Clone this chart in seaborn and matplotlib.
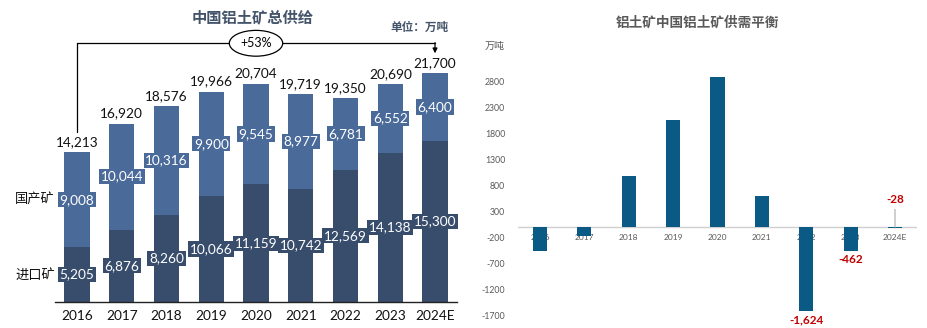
import matplotlib
matplotlib.use("Agg")
import matplotlib.pyplot as plt
import seaborn as sns
import numpy as np
import pandas as pd

years = ['2016', '2017', '2018', '2019', '2020', '2021', '2022', '2023', '2024E']
imports = [5205, 6876, 8260, 10066, 11159, 10742, 12569, 14138, 15300]
domestic = [9008, 10044, 10316, 9900, 9545, 8977, 6781, 6552, 6400]
balance = [-460, -180, 975, 2050, 2880, 590, -1624, -462, -28]
balance_labels = {6: '-1,624', 7: '-462', 8: '-28'}
right_ticks = [-1700, -1200, -700, -200, 300, 800, 1300, 1800, 2300, 2800]

sns.set_theme(style="white")
plt.rcParams['font.family'] = ['Lato', 'Noto Sans CJK SC', 'DejaVu Sans']
CJK = ['Noto Sans CJK SC', 'DejaVu Sans']

C_TOP = '#4A6A9A'
C_BOT = '#384C6C'
C_RIGHT = '#0B5A85'
C_RED = '#C00000'
C_GRAY = '#595959'

W, H = 928, 328
fig = plt.figure(figsize=(W / 100, H / 100), dpi=100)

def px_axes(x0, x1, ytop, ybot):
    return fig.add_axes([x0 / W, 1 - ybot / H, (x1 - x0) / W, (ybot - ytop) / H])

totals = [a + b for a, b in zip(imports, domestic)]
df = pd.DataFrame({'year': years, 'imports': imports, 'domestic': domestic, 'total': totals})

# ---------------- Left chart ----------------
axl = px_axes(54.6, 457.4, 28, 302)
sns.barplot(data=df, x='year', y='total', color=C_TOP, saturation=1, width=0.56, ax=axl,
            linewidth=0, edgecolor='none')
sns.barplot(data=df, x='year', y='imports', color=C_BOT, saturation=1, width=0.56, ax=axl,
            linewidth=0, edgecolor='none')
axl.set_xlim(-0.5, 8.5)
axl.set_ylim(0, 26000)
axl.set_xlabel('')
axl.set_ylabel('')
axl.set_yticks([])
for s in ['top', 'left', 'right']:
    axl.spines[s].set_visible(False)
axl.spines['bottom'].set_color('#222222')
axl.spines['bottom'].set_linewidth(1.0)
axl.tick_params(axis='x', length=0, labelsize=9.8, pad=6, colors='#111111')

for i, (imp, dom, tot) in enumerate(zip(imports, domestic, totals)):
    axl.text(i, imp / 2, f'{imp:,}', ha='center', va='center', fontsize=9.8, color='white',
             bbox=dict(boxstyle='square,pad=0.12', fc=C_BOT, ec='none'))
    axl.text(i, imp + dom / 2, f'{dom:,}', ha='center', va='center', fontsize=9.8, color='white',
             bbox=dict(boxstyle='square,pad=0.12', fc=C_TOP, ec='none'))
    axl.annotate(f'{tot:,}', (i, tot), xytext=(0, 3), textcoords='offset points',
                 ha='center', va='bottom', fontsize=9.8, color='#111111')

# bracket annotation
y_br = 24550
axl.plot([0, 0], [16100, y_br], color='black', lw=0.9, clip_on=False)
axl.plot([0, 8], [y_br, y_br], color='black', lw=0.9, clip_on=False)
axl.annotate('', xy=(8, 23600), xytext=(8, y_br + 60),
             arrowprops=dict(arrowstyle='-|>', color='black', lw=0.9, mutation_scale=7,
                             shrinkA=0, shrinkB=0), annotation_clip=False)
axl.text(4, y_br, '+53%', ha='center', va='center', fontsize=9, color='black',
         bbox=dict(boxstyle='ellipse,pad=0.25', fc='white', ec='black', lw=0.9))

fig.text(253 / W, 1 - 17 / H, '中国铝土矿总供给', ha='center', va='center', fontsize=11,
         fontweight='bold', color='#44546A', family=CJK)
fig.text(420 / W, 1 - 27 / H, '单位：万吨', ha='center', va='center', fontsize=8.4,
         fontweight='bold', color='#44546A', family=CJK)
fig.text(35 / W, 1 - 200 / H, '国产矿', ha='center', va='center', fontsize=9.5,
         color='#111111', family=CJK)
fig.text(35 / W, 1 - 275 / H, '进口矿', ha='center', va='center', fontsize=9.5,
         color='#111111', family=CJK)

# ---------------- Right chart ----------------
axr = px_axes(517.8, 917.2, 60, 325)
dfr = pd.DataFrame({'year': years, 'balance': balance})
sns.barplot(data=dfr, x='year', y='balance', color=C_RIGHT, saturation=1, width=0.32, ax=axr,
            linewidth=0, edgecolor='none', zorder=2)
axr.set_xlim(-0.5, 8.5)
axr.set_ylim(-1890, 3206)
axr.set_xlabel('')
axr.set_ylabel('')
axr.set_xticks([])
axr.set_yticks(right_ticks)
axr.set_yticklabels([str(t) for t in right_ticks])
axr.tick_params(axis='y', length=0, labelsize=6.3, colors=C_GRAY, pad=9)
for s in ['top', 'left', 'right', 'bottom']:
    axr.spines[s].set_visible(False)
axr.axhline(0, color='#D0D0D0', lw=1.0, zorder=0.5)

for i, y in enumerate(years):
    axr.text(i, -200, y, ha='center', va='center', fontsize=6, color=C_GRAY, zorder=1)

for i, lab in balance_labels.items():
    v = balance[i]
    if i == 8:
        axr.annotate(lab, (i, v), xytext=(0, 17), textcoords='offset points',
                     ha='center', va='bottom', fontsize=8.5, fontweight='bold', color=C_RED,
                     arrowprops=dict(arrowstyle='-', color='#A0A0A0', lw=0.7,
                                     shrinkA=1, shrinkB=0))
    else:
        axr.annotate(lab, (i, v), xytext=(0, -2), textcoords='offset points',
                     ha='center', va='top', fontsize=8.5, fontweight='bold', color=C_RED)

fig.text(698 / W, 1 - 23 / H, '铝土矿中国铝土矿供需平衡', ha='center', va='center', fontsize=9.8,
         fontweight='bold', color=C_GRAY, family=CJK)
fig.text(495 / W, 1 - 46 / H, '万吨', ha='center', va='center', fontsize=7.2,
         color=C_GRAY, family=CJK)

fig.savefig('out.png', dpi=100)
